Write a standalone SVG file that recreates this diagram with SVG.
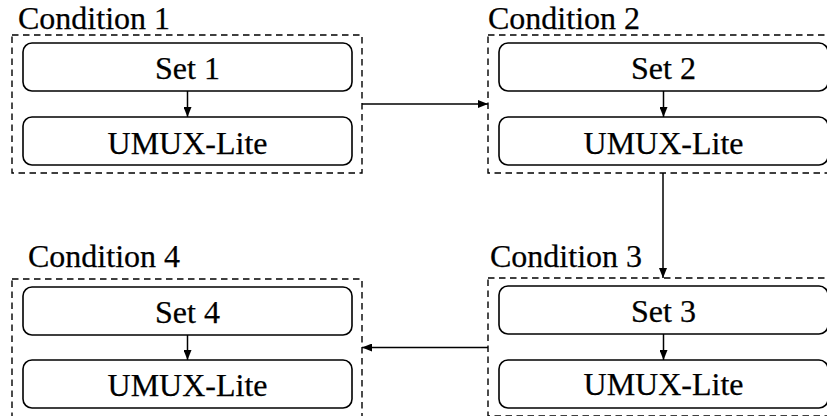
<svg xmlns="http://www.w3.org/2000/svg" width="827" height="416" viewBox="0 0 827 416">
<style>
.frame{fill:none;stroke:#000;stroke-width:1.4;stroke-dasharray:6.5 4.5}
.box{fill:#fff;stroke:#000;stroke-width:1.6}
text{font-family:'Liberation Serif','Times New Roman',serif;font-size:32px;fill:#000;stroke:#000;stroke-width:0.25}
.mid{text-anchor:middle}
.edge{fill:none;stroke:#000;stroke-width:1.5}
</style>
<defs>
<marker id="ah" viewBox="0 0 10 8" refX="10" refY="4" markerWidth="10" markerHeight="8" markerUnits="userSpaceOnUse" orient="auto">
<path d="M0,0 L10,4 L0,8 Z" fill="#000"/>
</marker>
</defs>
<rect width="827" height="416" fill="#fff"/>
<g id="condition1">
<text x="18" y="29">Condition 1</text>
<rect class="frame" x="12" y="35" width="350" height="138"/>
<g id="set1"><rect class="box" x="23" y="43" width="329" height="48" rx="9"/><text class="mid" x="187.5" y="79">Set 1</text></g>
<g id="umux1"><rect class="box" x="23" y="117" width="329" height="48" rx="9"/><text class="mid" x="187.5" y="154">UMUX-Lite</text></g>
</g>
<g id="condition2">
<text x="488" y="29">Condition 2</text>
<rect class="frame" x="488" y="35" width="350" height="138"/>
<g id="set2"><rect class="box" x="499" y="43" width="329" height="48" rx="9"/><text class="mid" x="663.5" y="79">Set 2</text></g>
<g id="umux2"><rect class="box" x="499" y="117" width="329" height="48" rx="9"/><text class="mid" x="663.5" y="154">UMUX-Lite</text></g>
</g>
<g id="condition3">
<text x="490" y="267">Condition 3</text>
<rect class="frame" x="488" y="278" width="350" height="138"/>
<g id="set3"><rect class="box" x="499" y="286" width="329" height="48" rx="9"/><text class="mid" x="663.5" y="322">Set 3</text></g>
<g id="umux3"><rect class="box" x="499" y="360" width="329" height="48" rx="9"/><text class="mid" x="663.5" y="395">UMUX-Lite</text></g>
</g>
<g id="condition4">
<text x="28" y="267">Condition 4</text>
<rect class="frame" x="12" y="279" width="350" height="138"/>
<g id="set4"><rect class="box" x="23" y="287" width="329" height="48" rx="9"/><text class="mid" x="187.5" y="323">Set 4</text></g>
<g id="umux4"><rect class="box" x="23" y="360" width="329" height="48" rx="9"/><text class="mid" x="187.5" y="396">UMUX-Lite</text></g>
</g>
<g id="connectors">
<line class="edge" x1="187.5" y1="91" x2="187.5" y2="117" marker-end="url(#ah)"/>
<line class="edge" x1="663.5" y1="91" x2="663.5" y2="117" marker-end="url(#ah)"/>
<line class="edge" x1="663.5" y1="334" x2="663.5" y2="360" marker-end="url(#ah)"/>
<line class="edge" x1="187.5" y1="335" x2="187.5" y2="360" marker-end="url(#ah)"/>
<line class="edge" x1="362" y1="104" x2="488" y2="104" marker-end="url(#ah)"/>
<line class="edge" x1="663" y1="173" x2="663" y2="278" marker-end="url(#ah)"/>
<line class="edge" x1="488" y1="347.5" x2="362" y2="347.5" marker-end="url(#ah)"/>
</g>
</svg>
